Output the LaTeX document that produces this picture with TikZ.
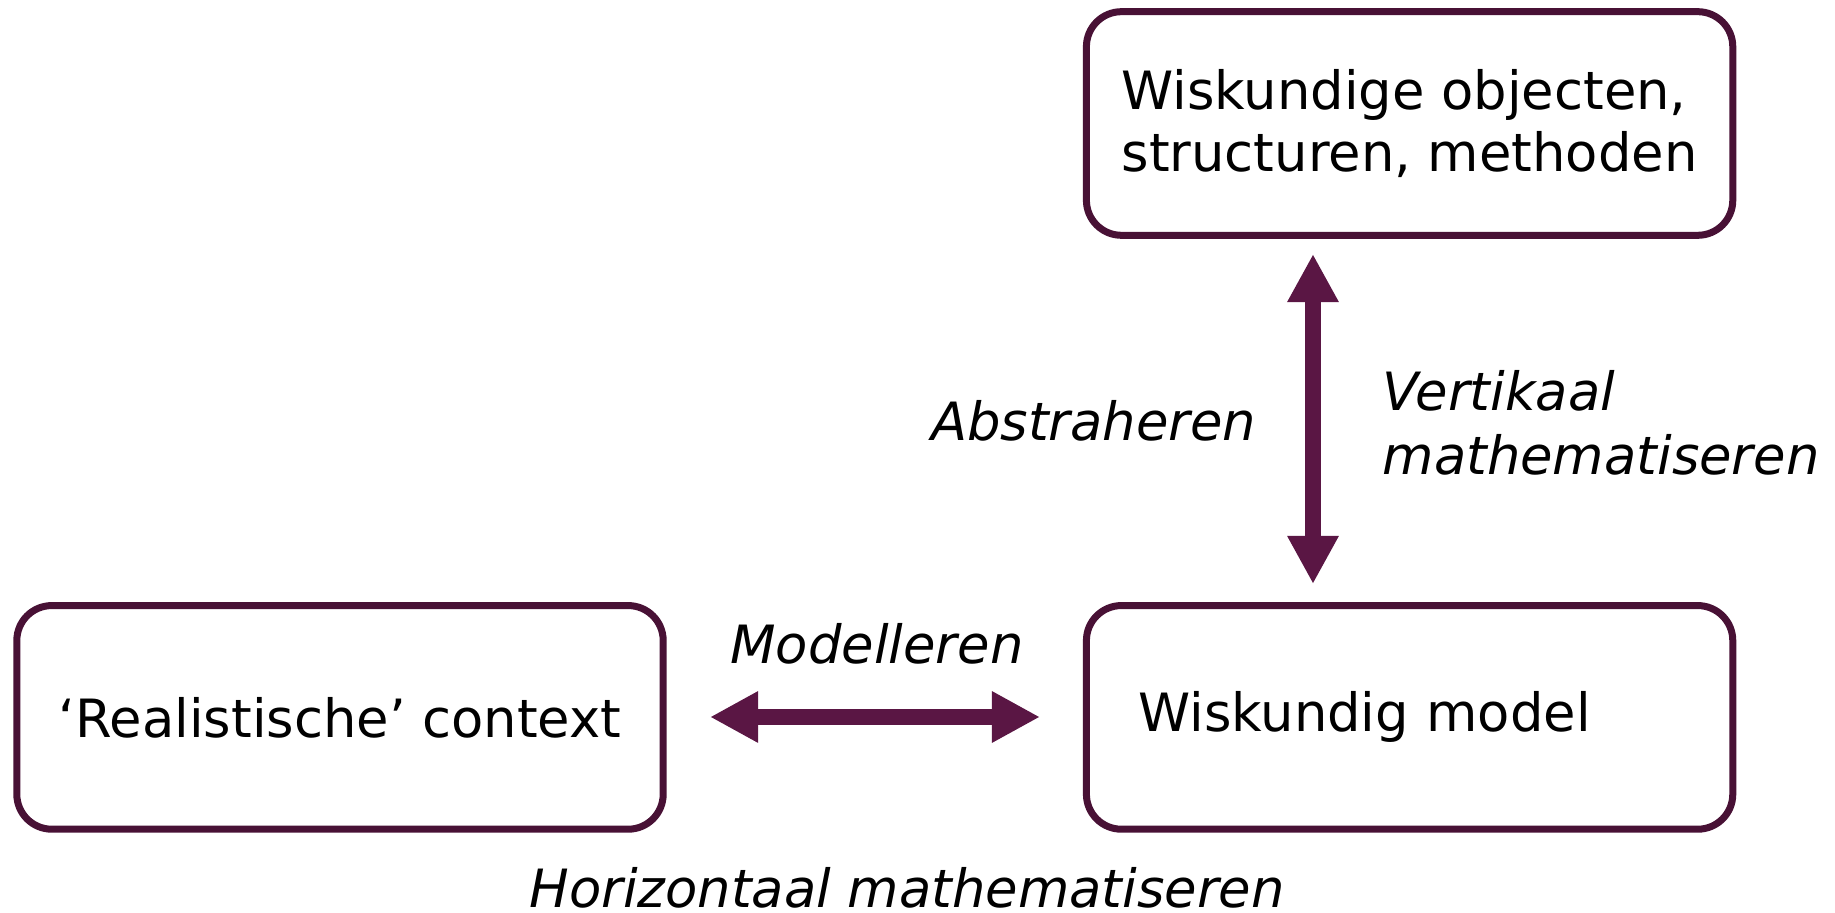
\documentclass[tikz,border=0pt]{standalone}
\usepackage{fontspec}
\setmainfont{DejaVu Sans}
\usetikzlibrary{arrows.meta}
\definecolor{frame}{RGB}{72,17,53}
\definecolor{plum}{RGB}{90,22,68}
\begin{document}
\begin{tikzpicture}[x=0.01cm,y=-0.01cm,
  box/.style={draw=frame, line width=0.07cm, rounded corners=0.35cm,
    minimum width=6.46cm, minimum height=2.235cm, inner sep=0pt,
    font=\fontsize{15}{17.6}\selectfont, align=left},
  lbl/.style={inner sep=0pt, font=\fontsize{15}{18.2}\selectfont\itshape, align=left},
  twoway/.style={draw=plum, line width=0.16cm,
    {Triangle[length=0.48cm,width=0.48cm]}-{Triangle[length=0.48cm,width=0.48cm]}}]
\useasboundingbox (0,0) rectangle (1835,913);

% boxes
\node[box] (objects) at (1409.6,123.5) {Wiskundige objecten,\\structuren, methoden};
\node[box] (context) at (340,717.4) {`Realistische' context};
\node[box, text width=5.42cm, inner xsep=0.52cm] (model) at (1409.6,717.4) {Wiskundig model};

% arrow end points
\coordinate (vtop) at (1313,254);
\coordinate (vbot) at (1313,584);
\coordinate (hleft) at (710,717);
\coordinate (hright) at (1040,717);

\draw[twoway] (vtop) -- (vbot);
\draw[twoway] (hleft) -- (hright);

% labels
\node[lbl, anchor=east] (abstr) at (1257,421) {Abstraheren};
\node[lbl, anchor=west] (vert) at (1382,423) {Vertikaal\\mathematiseren};
\node[lbl] (model-lbl) at (877,644) {Modelleren};
\node[lbl] (horiz) at (907,888) {Horizontaal mathematiseren};
\end{tikzpicture}
\end{document}
